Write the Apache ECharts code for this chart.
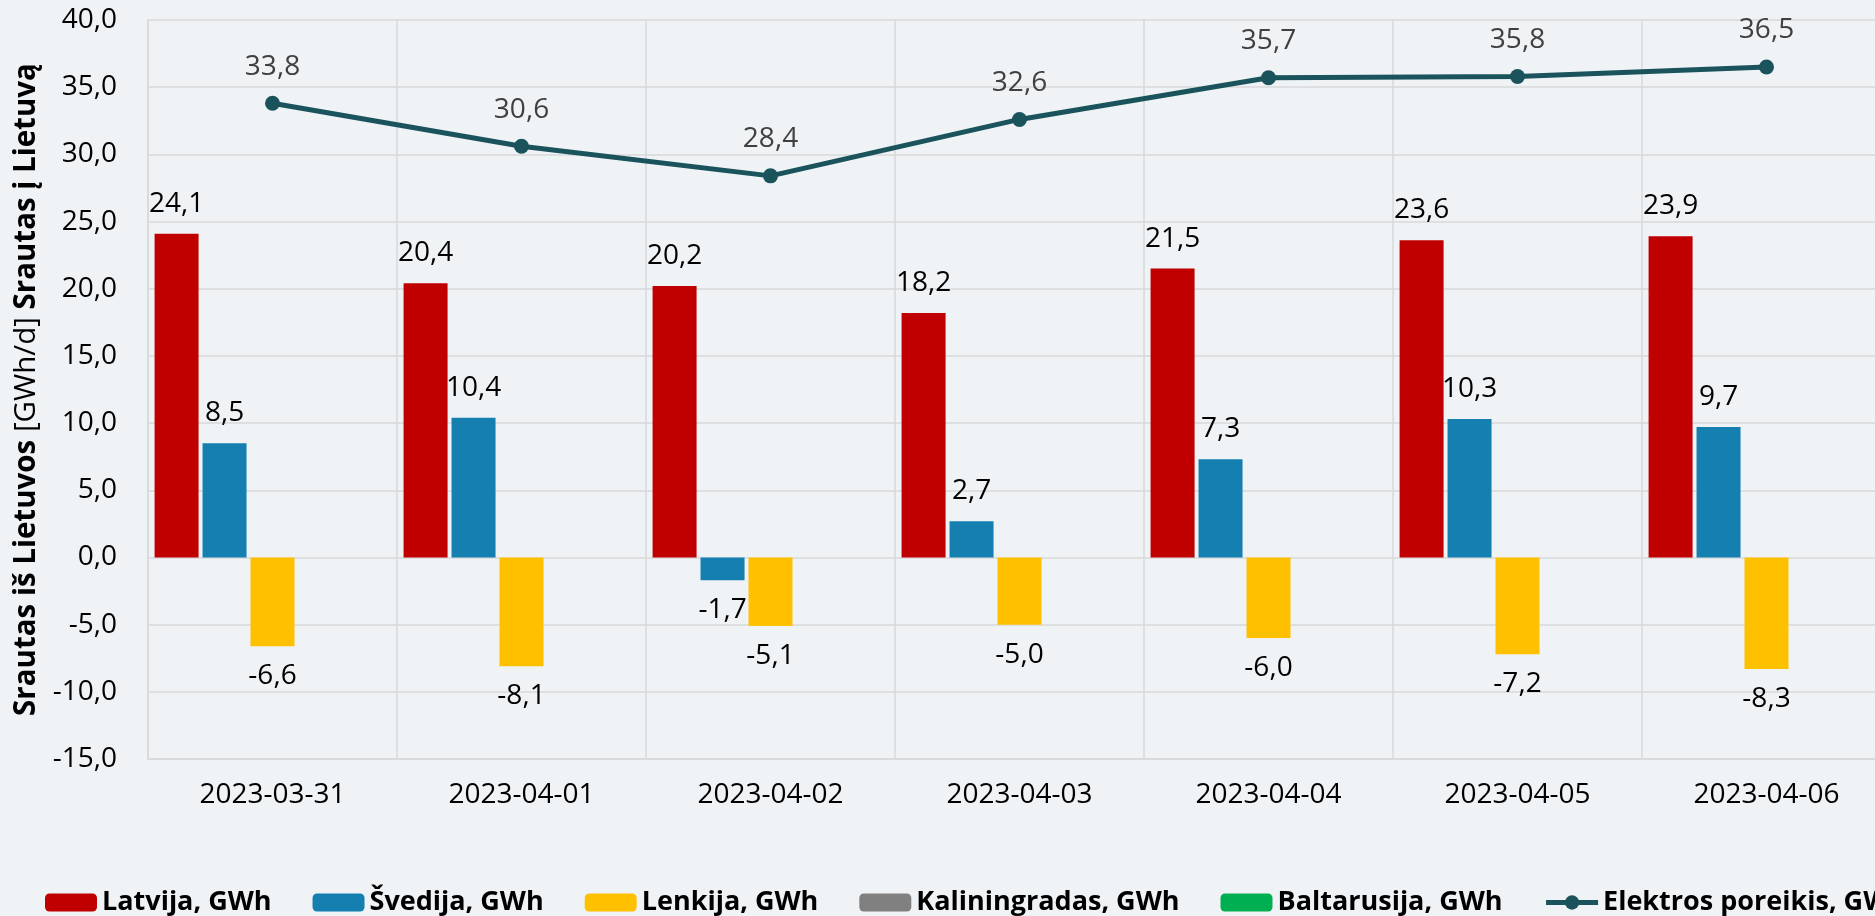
<!DOCTYPE html>
<html>
<head>
<meta charset="utf-8">
<script src="https://cdn.jsdelivr.net/npm/echarts@6/dist/echarts.min.js"></script>
<style>
  html, body { margin: 0; padding: 0; background: #eff3f6; overflow: hidden; }
  /* the plot runs past the right edge of the page, as in the original */
  #main { width: 1891px; height: 916px; }
</style>
</head>
<body>
<div id="main"></div>
<script>
// duomenys
const dates = ['2023-03-31', '2023-04-01', '2023-04-02', '2023-04-03', '2023-04-04', '2023-04-05', '2023-04-06'];
const latvija = [24.1, 20.4, 20.2, 18.2, 21.5, 23.6, 23.9];
const svedija = [8.5, 10.4, -1.7, 2.7, 7.3, 10.3, 9.7];
const lenkija = [-6.6, -8.1, -5.1, -5.0, -6.0, -7.2, -8.3];
const kaliningradas = [0, 0, 0, 0, 0, 0, 0];
const baltarusija = [0, 0, 0, 0, 0, 0, 0];
const poreikis = [33.8, 30.6, 28.4, 32.6, 35.7, 35.8, 36.5];

const FONT = '"Open Sans", sans-serif';
const fmt = v => v.toFixed(1).replace('.', ',');

// neigiamoms reikšmėms etiketė po stulpeliu
const withLabels = arr => arr.map(v => ({
  value: v,
  label: { position: v < 0 ? 'bottom' : 'top' }
}));

const barLabel = {
  show: true,
  distance: 16,
  fontFamily: FONT,
  fontSize: 28,
  color: '#000',
  formatter: p => fmt(p.value)
};

function barSeries(name, data, color, labels) {
  return {
    name: name,
    type: 'bar',
    data: labels ? withLabels(data) : data,
    barWidth: 44,
    barGap: '9%',
    itemStyle: { color: color },
    label: labels ? barLabel : { show: false }
  };
}

const chart = echarts.init(document.getElementById('main'));
const option = {
  backgroundColor: '#eff3f6',
  animation: false,
  grid: { left: 148, top: 20, right: 0, height: 739 },
  legend: {
    left: 40,
    top: 884,
    width: 3000,
    itemGap: 41,
    itemWidth: 52,
    itemHeight: 18,
    textStyle: { fontFamily: FONT, fontSize: 27, fontWeight: 'bold', color: '#000' },
    data: [
      'Latvija, GWh', 'Švedija, GWh', 'Lenkija, GWh', 'Kaliningradas, GWh', 'Baltarusija, GWh',
      { name: 'Elektros poreikis, GWh', lineStyle: { width: 5 } }
    ]
  },
  xAxis: {
    type: 'category',
    data: dates,
    axisLine: { onZero: false, lineStyle: { color: '#d9d9d9', width: 1.5 } },
    axisTick: { show: false },
    splitLine: { show: true, lineStyle: { color: '#d9d9d9', width: 1.5 } },
    axisLabel: { fontFamily: FONT, fontSize: 28, color: '#000', margin: 22 }
  },
  yAxis: {
    type: 'value',
    min: -15,
    max: 40,
    interval: 5,
    name: '{b|Srautas iš Lietuvos }{n|[GWh/d]}{b| Srautas į Lietuvą}',
    nameLocation: 'middle',
    nameGap: 105,
    nameTextStyle: {
      rich: {
        b: { fontFamily: FONT, fontSize: 29.5, fontWeight: 'bold', color: '#000' },
        n: { fontFamily: FONT, fontSize: 29.5, color: '#000' }
      }
    },
    axisLine: { show: true, lineStyle: { color: '#d9d9d9', width: 1.5 } },
    splitLine: { lineStyle: { color: '#d9d9d9', width: 1.5 } },
    axisLabel: { fontFamily: FONT, fontSize: 28, color: '#000', margin: 31, formatter: fmt }
  },
  series: [
    barSeries('Latvija, GWh', latvija, '#c00000', true),
    barSeries('Švedija, GWh', svedija, '#157fb0', true),
    barSeries('Lenkija, GWh', lenkija, '#ffc000', true),
    barSeries('Kaliningradas, GWh', kaliningradas, '#808080', false),
    barSeries('Baltarusija, GWh', baltarusija, '#00b050', false),
    {
      name: 'Elektros poreikis, GWh',
      type: 'line',
      data: poreikis,
      symbol: 'circle',
      symbolSize: 15,
      lineStyle: { color: '#1a535c', width: 5 },
      itemStyle: { color: '#1a535c' },
      label: {
        show: true,
        position: 'top',
        distance: 15,
        fontFamily: FONT,
        fontSize: 28,
        color: '#404040',
        formatter: p => fmt(p.value)
      }
    }
  ]
};
chart.setOption(option);
</script>
</body>
</html>
